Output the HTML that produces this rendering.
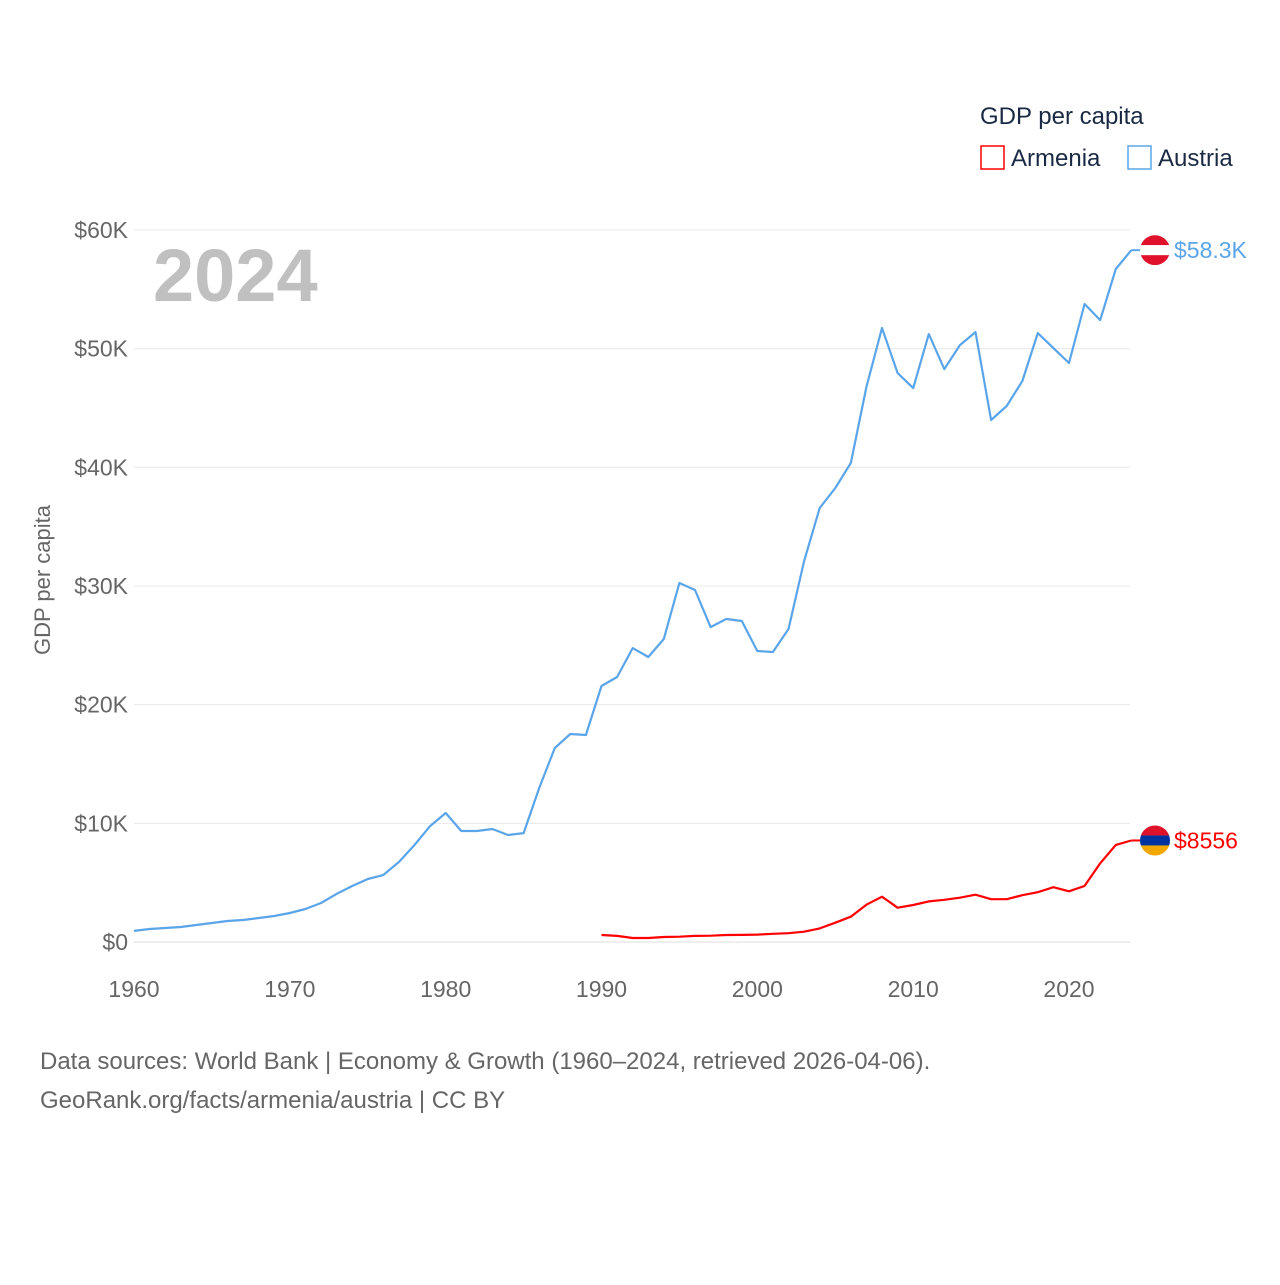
<!DOCTYPE html>
<html><head><meta charset="utf-8"><style>
html,body{margin:0;padding:0;background:#fff;}
svg text{font-family:"Liberation Sans",sans-serif;}
</style></head><body>
<svg id="chart" width="1280" height="1280" xmlns="http://www.w3.org/2000/svg">
<defs>
<clipPath id="cA"><circle cx="1155" cy="0" r="15"/></clipPath>
</defs>
<g id="grid"></g>
<g id="yticks"></g>
<g id="xticks"></g>
<text x="153" y="301" font-size="74" font-weight="bold" fill="#c0c0c0">2024</text>
<text transform="translate(50,580) rotate(-90)" text-anchor="middle" font-size="22" fill="#666">GDP per capita</text>
<g id="series"></g>
<g id="ends"></g>
<g>
<text x="980" y="124" font-size="24" fill="#1a2a44">GDP per capita</text>
<g>
<rect x="981" y="146" width="23" height="23" fill="none" stroke="#f00" stroke-width="1.5"/>
<text x="1011" y="166" font-size="24" fill="#1a2a44">Armenia</text></g>
<g>
<rect x="1128" y="146" width="23" height="23" fill="none" stroke="#5aa5ea" stroke-width="1.5"/>
<text x="1158" y="166" font-size="24" fill="#1a2a44">Austria</text></g>
</g>
<text x="40" y="1069" font-size="24" fill="#666">Data sources: World Bank | Economy &amp; Growth (1960–2024, retrieved 2026-04-06).</text>
<text x="40" y="1108" font-size="24" fill="#666">GeoRank.org/facts/armenia/austria | CC BY</text>
</svg>
<script>
const yTicks=[0,10000,20000,30000,40000,50000,60000];
const yTickLabels=["$0","$10K","$20K","$30K","$40K","$50K","$60K"];
const xTicks=[1960,1970,1980,1990,2000,2010,2020];
const austriaStart=1960;
const austriaVals=[935,1095,1180,1260,1430,1600,1770,1850,2020,2190,2440,2780,3290,4050,4720,5310,5650,6740,8170,9770,10870,9350,9350,9520,9020,9180,12980,16350,17530,17440,21570,22330,24770,24020,25530,30250,29660,26540,27220,27050,24520,24440,26380,32100,36570,38260,40360,46770,51740,47950,46680,51230,48280,50300,51400,43990,45170,47270,51310,50050,48790,53760,52410,56710,58300];
const armeniaStart=1990;
const armeniaVals=[590,510,340,340,420,450,510,530,590,600,620,690,740,870,1150,1630,2130,3140,3820,2890,3120,3420,3560,3730,3990,3610,3610,3940,4200,4620,4270,4730,6630,8180,8556];
const endLabels=["$58.3K","$8556"];
const NS="http://www.w3.org/2000/svg";
const x=yr=>134+(yr-1960)*(1069-134)/60;
const y=v=>942-v*(942-230)/60000;
function mk(t,a,p){const e=document.createElementNS(NS,t);for(const k in a)e.setAttribute(k,a[k]);p.appendChild(e);return e;}
const grid=document.getElementById('grid'),yt=document.getElementById('yticks'),xt=document.getElementById('xticks');
yTicks.forEach((v,i)=>{
 const l=mk('line',{x1:134,x2:1130,y1:y(v),y2:y(v),stroke:v===0?'#ddd':'#e8e8e8','stroke-width':1},grid);
 
 
 const t=mk('text',{x:128,y:y(v)+8,'text-anchor':'end','font-size':23,fill:'#666'},yt);
 t.textContent=yTickLabels[i];
 
 
});
xTicks.forEach(v=>{
 const t=mk('text',{x:x(v),y:997,'text-anchor':'middle','font-size':23,fill:'#666'},xt);
 t.textContent=v;
 
 
});
const s=document.getElementById('series');
function line(vals,start,col,name){
 const d=vals.map((v,i)=>(i?'L':'M')+x(start+i).toFixed(1)+','+y(v).toFixed(1)).join('');
 const p=mk('path',{d:d,fill:'none',stroke:col,'stroke-width':2.2,'stroke-linejoin':'round'},s);
 
 
}
line(austriaVals,austriaStart,'#5aa5ea','austria-line');
line(armeniaVals,armeniaStart,'#f00','armenia-line');
const ends=document.getElementById('ends');
function flag(cy,cols,name){
 const g=mk('g',{},ends);
 
 
 const id='c'+name;
 const cp=mk('clipPath',{id:id},g);mk('circle',{cx:1155,cy:cy,r:15},cp);
 cols.forEach((c,i)=>mk('rect',{x:1140,y:cy-15+i*10,width:30,height:10,fill:c,'clip-path':'url(#'+id+')'},g));
}
const ya=y(austriaVals[austriaVals.length-1]),yb=y(armeniaVals[armeniaVals.length-1]);
mk('line',{x1:x(2024),x2:1140,y1:ya,y2:ya,stroke:'#5aa5ea','stroke-width':2},ends);
mk('line',{x1:x(2024),x2:1140,y1:yb,y2:yb,stroke:'#f00','stroke-width':2},ends);
flag(ya,['#e0112b','#fff','#e0112b'],'austria-flag');
flag(yb,['#e0112b','#0033a0','#f2a800'],'armenia-flag');
let t=mk('text',{x:1174,y:ya+8,'font-size':23,fill:'#5aa5ea'},ends);t.textContent=endLabels[0];


t=mk('text',{x:1174,y:yb+8,'font-size':23,fill:'#f00'},ends);t.textContent=endLabels[1];


</script>
</body></html>
